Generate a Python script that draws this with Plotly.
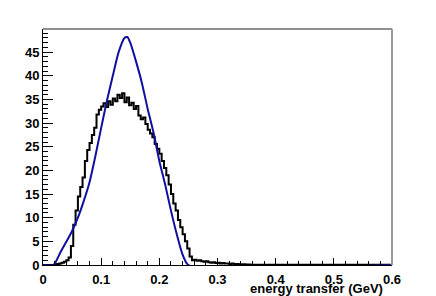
import plotly.graph_objects as go

# Black histogram: bin width 0.004, values listed from x=0
bin_width = 0.004
hist_vals = [0, 0, 0, 0, 0, 0.1,
             0.2, 0.3, 0.5, 0.7, 1.0, 1.6, 4.0, 8.5, 11.5, 14.5, 16.5, 18.5, 22.0, 24.3,
             25.8, 27.5, 29.0, 31.8, 32.8, 33.5, 34.2, 33.4, 34.6, 33.9, 35.2, 34.6, 36.0,
             35.3, 36.3, 34.4, 35.4, 33.8, 34.3, 33.0, 33.6, 31.6, 30.8, 31.2, 29.8,
             28.6, 27.8, 27.0, 25.6, 24.6, 23.5, 22.0, 20.5, 19.0, 17.0, 15.0, 13.0,
             11.5, 9.5, 8.0, 6.5, 5.0, 3.5, 1.8, 1.0, 1.1, 0.9, 1.0, 0.8, 0.7, 0.8,
             0.6, 0.5, 0.6, 0.4, 0.5, 0.3, 0.4, 0.3, 0.3, 0.2, 0.3, 0.2, 0.2, 0.15,
             0.1, 0.15, 0.1, 0.1]
n_bins = 150
hist_vals = hist_vals + [0.05] * (n_bins - len(hist_vals))

# Blue smooth curve
curve_x = [0, 0.018, 0.03, 0.04, 0.05, 0.06, 0.07, 0.08, 0.09, 0.10, 0.11, 0.12,
           0.13, 0.14, 0.145, 0.15, 0.16, 0.17, 0.18, 0.19, 0.20, 0.21, 0.22, 0.23,
           0.24, 0.25, 0.6]
curve_y = [0, 0, 2.7, 4.9, 7.2, 10, 13.5, 17.5, 23, 29, 34.8, 40,
           45, 48, 48.2, 47, 43, 38.5, 33, 28, 22, 17, 11.5, 6.5,
           2.2, 0, 0]

edges = [i * bin_width for i in range(n_bins + 1)]
step_y = hist_vals + [hist_vals[-1]]

fig = go.Figure()
fig.add_trace(go.Scatter(x=edges, y=step_y, mode="lines", line=dict(color="black", width=2, shape="hv"),
                         showlegend=False, hoverinfo="skip"))
fig.add_trace(go.Scatter(x=curve_x, y=curve_y, mode="lines", line=dict(color="#1010a0", width=2, shape="spline", smoothing=0.6),
                         showlegend=False, hoverinfo="skip"))

font_family = "Liberation Sans, Arial, sans-serif"
tick_font = dict(family=font_family, size=13, color="black", weight="bold")

# page body has an 8px margin, so the figure is 8px smaller than the window
fig.update_layout(
    width=428, height=288,
    margin=dict(l=35, r=44, t=21, b=31),
    paper_bgcolor="white", plot_bgcolor="white",
    xaxis=dict(range=[0, 0.6], dtick=0.1, tick0=0, ticks="inside", ticklen=7, tickwidth=1,
               tickcolor="black", showgrid=False, zeroline=False, showline=True, linecolor="black",
               linewidth=1, tickfont=tick_font, ticklabelstandoff=2, automargin=False,
               minor=dict(dtick=0.02, ticks="inside", ticklen=4, tickcolor="black", showgrid=False)),
    yaxis=dict(range=[0, 49.9], dtick=5, tick0=0, ticks="inside", ticklen=10, tickwidth=1,
               tickcolor="black", showgrid=False, zeroline=False, showline=True, linecolor="black",
               linewidth=1, tickfont=tick_font, automargin=False,
               minor=dict(dtick=1, ticks="inside", ticklen=5, tickcolor="black", showgrid=False)),
    shapes=[
        dict(type="line", xref="paper", yref="paper", x0=0, x1=1, y0=1, y1=1,
             line=dict(color="#222222", width=1)),
        dict(type="line", xref="paper", yref="paper", x0=1, x1=1, y0=0, y1=1,
             line=dict(color="#999999", width=2)),
    ],
    annotations=[
        dict(text="energy transfer (GeV)", xref="paper", yref="paper", x=1, y=0,
             xanchor="right", yanchor="middle", yshift=-23, xshift=-7, showarrow=False,
             font=dict(family=font_family, size=13, color="black", weight="bold")),
    ],
)

fig.write_html("out.html")
